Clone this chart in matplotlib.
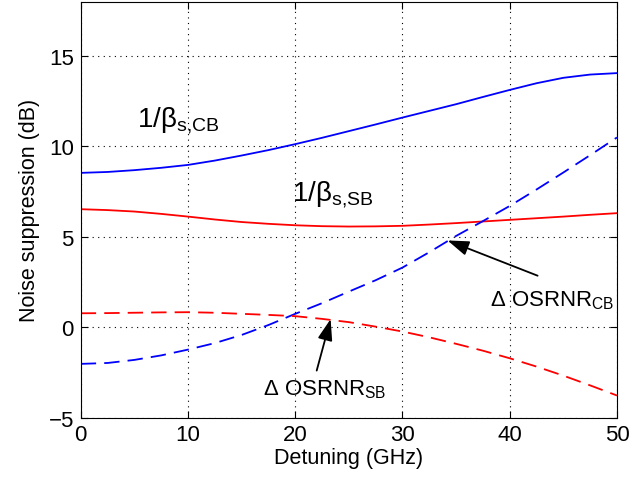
import matplotlib
matplotlib.use("Agg")
import matplotlib.pyplot as plt
import numpy as np

plt.rcParams["font.family"] = "Liberation Sans"
plt.rcParams["mathtext.fontset"] = "custom"
plt.rcParams["mathtext.rm"] = "Liberation Sans"

# Detuning (GHz)
detuning = [0, 2.5, 5, 7.5, 10, 12.5, 15, 17.5, 20, 22.5, 25,
            27.5, 30, 32.5, 35, 37.5, 40, 42.5, 45, 47.5, 50]
# 1/beta_s,CB (dB)
beta_cb = [8.54, 8.59, 8.69, 8.82, 8.98, 9.22, 9.5, 9.8, 10.13, 10.48, 10.85,
           11.22, 11.6, 11.97, 12.34, 12.74, 13.13, 13.5, 13.8, 13.98, 14.06]
# 1/beta_s,SB (dB)
beta_sb = [6.53, 6.48, 6.4, 6.27, 6.12, 5.96, 5.82, 5.72, 5.64, 5.59, 5.57,
           5.58, 5.61, 5.68, 5.76, 5.85, 5.94, 6.03, 6.12, 6.22, 6.31]
# Delta OSRNR_CB (dB)
osrnr_cb = [-2.03, -1.98, -1.81, -1.56, -1.24, -0.88, -0.43, 0.12, 0.74, 1.33, 1.97,
            2.6, 3.3, 4.15, 5.05, 5.87, 6.71, 7.62, 8.56, 9.52, 10.5]
# Delta OSRNR_SB (dB)
osrnr_sb = [0.77, 0.78, 0.8, 0.82, 0.83, 0.8, 0.74, 0.68, 0.61, 0.46, 0.28,
            0.03, -0.24, -0.56, -0.92, -1.3, -1.72, -2.18, -2.68, -3.22, -3.78]

fig, ax = plt.subplots(figsize=(6.41, 4.85), dpi=100)
fig.subplots_adjust(left=0.126, right=0.9625, top=0.994, bottom=0.137)

ax.plot(detuning, beta_cb, "-", color="#0000ff", linewidth=1.3)
ax.plot(detuning, beta_sb, "-", color="#ff0000", linewidth=1.3)
ax.plot(detuning, osrnr_cb, "--", color="#0000ff", linewidth=1.3, dashes=(8.5, 4.5))
ax.plot(detuning, osrnr_sb, "--", color="#ff0000", linewidth=1.3, dashes=(8.5, 4.5))

ax.set_xlim(0, 50)
ax.set_ylim(-5, 18)
ax.set_xticks([0, 10, 20, 30, 40, 50])
ax.set_yticks([-5, 0, 5, 10, 15])
ax.tick_params(direction="in", top=True, right=True, labelsize=16, length=5, pad=5)
ax.grid(True, color="black", linestyle=(0, (1, 4)), linewidth=0.8)
for s in ax.spines.values():
    s.set_linewidth(0.8)

ax.set_xlabel("Detuning (GHz)", fontsize=15.5, labelpad=1)
ax.set_ylabel("Noise suppression (dB)", fontsize=15.5, labelpad=6)

ax.text(5.2, 11.5, r"1/$\mathregular{\beta_{s{,}CB}}$", fontsize=20, va="center")
ax.text(19.7, 7.4, r"1/$\mathregular{\beta_{s{,}SB}}$", fontsize=20, va="center")

arrow = dict(arrowstyle="-|>,head_length=1.3,head_width=0.45", color="black",
             linewidth=1.3, shrinkA=0, shrinkB=0)
ax.annotate("", xy=(34.2, 4.8), xytext=(42.6, 2.85), arrowprops=arrow)
ax.annotate("", xy=(23.3, 0.45), xytext=(22.0, -2.4), arrowprops=arrow)
ax.text(38.2, 1.5, r"$\Delta$ OSRNR$\mathregular{_{CB}}$", fontsize=16, va="center")
ax.text(17.0, -3.4, r"$\Delta$ OSRNR$\mathregular{_{SB}}$", fontsize=16, va="center")

fig.savefig("out.png", dpi=100, facecolor="white")
